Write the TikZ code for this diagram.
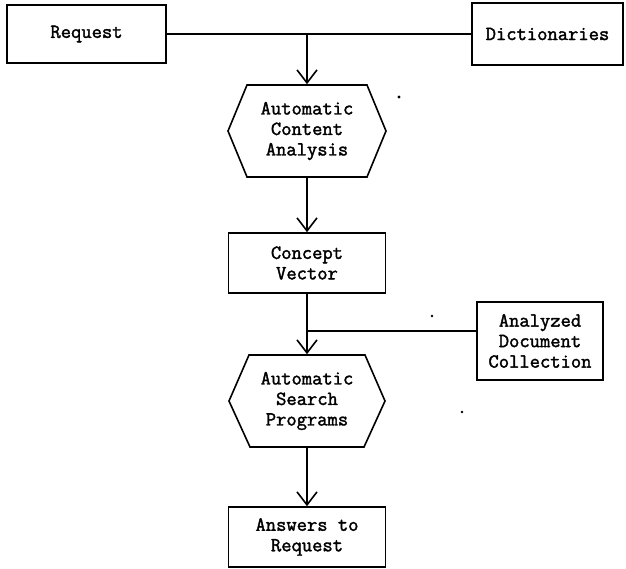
\documentclass[tikz,border=0pt]{standalone}
\usepackage{fontspec}
\setmonofont{Latin Modern Mono}[AutoFakeBold=1.8]
\usetikzlibrary{arrows.meta,calc}
\begin{document}
\begin{tikzpicture}[x=1pt,y=-1pt,
  line width=1.6pt,
  every node/.style={font=\ttfamily\bfseries\fontsize{20}{20.5}\selectfont, align=center, inner sep=0pt},
  box/.style={draw, rectangle},
  hexa/.style={draw=none, minimum width=157pt, minimum height=92pt},
  arr/.style={-{Straight Barb[length=13pt,width=20pt]}},
  speck/.style={fill=black, draw=none}
]
\useasboundingbox (0,0) rectangle (626,569);

\node[box, minimum width=159pt, minimum height=58pt] (req) at (86.5,34) {Request};
\node[box, minimum width=151pt, minimum height=62pt] (dict) at (547.5,34) {Dictionaries};
\coordinate (j1) at (307,34);

\node[hexa] (h1) at (307,131) {Automatic\\Content\\Analysis};
\draw ([shift={(-60,-46)}]h1.center) -- ([shift={(60,-46)}]h1.center)
      -- ([shift={(79,0)}]h1.center) -- ([shift={(60,46)}]h1.center)
      -- ([shift={(-60,46)}]h1.center) -- ([shift={(-79,0)}]h1.center) -- cycle;

\node[box, minimum width=157pt, minimum height=60pt] (cv) at (307,263) {Concept\\Vector};
\coordinate (j2) at (307,331);
\node[box, minimum width=126pt, minimum height=78pt] (adc) at (540,341) {Analyzed\\Document\\Collection};

\node[hexa] (h2) at (307,401) {Automatic\\Search\\Programs};
\draw ([shift={(-58,-46)}]h2.center) -- ([shift={(58,-46)}]h2.center)
      -- ([shift={(78,0)}]h2.center) -- ([shift={(57,46)}]h2.center)
      -- ([shift={(-57,46)}]h2.center) -- ([shift={(-78,0)}]h2.center) -- cycle;

\node[box, minimum width=157pt, minimum height=60pt] (ans) at (307,537) {Answers to\\Request};

% connectors
\draw (req.east) -- (dict.west);
\draw[arr] (j1) -- (h1.north);
\draw[arr] (h1.south) -- (cv.north);
\draw (cv.south) -- (j2);
\draw[arr] (j2) -- (h2.north);
\draw (j2) -- (j2 -| adc.west);
\draw[arr] (h2.south) -- (ans.north);

% scan specks
\fill[speck] (399,97) circle (1.6);
\fill[speck] (432,316) circle (1.3);
\fill[speck] (462,412) circle (1.4);
\end{tikzpicture}
\end{document}
